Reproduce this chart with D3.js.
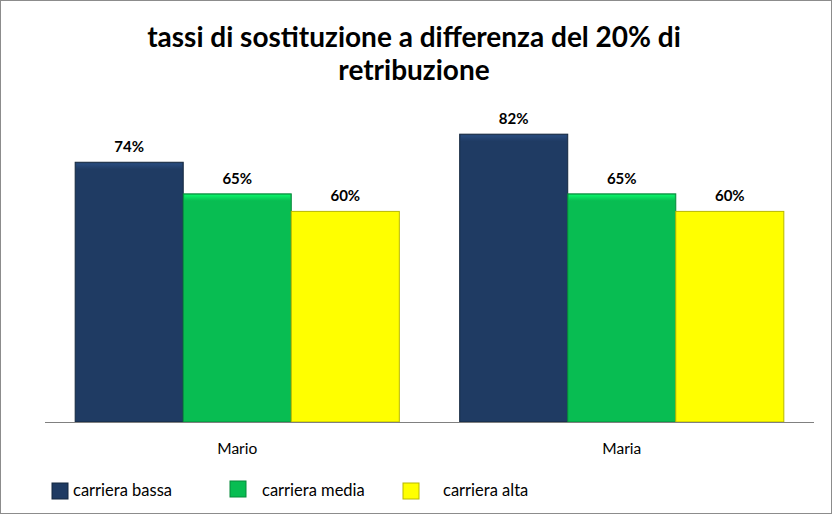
<!DOCTYPE html>
<html><head><meta charset="utf-8">
<script src="https://cdn.jsdelivr.net/npm/d3@7/dist/d3.min.js"></script>
<style>body{margin:0;background:#fff}svg{display:block}</style>
</head><body>
<script>
const categories = ["Mario", "Maria"];
const seriesNames = ["carriera bassa", "carriera media", "carriera alta"];
const carrieraBassa = [0.74, 0.82];
const carrieraMedia = [0.65, 0.65];
const carrieraAlta = [0.60, 0.60];
const titleLines = ["tassi di sostituzione a differenza del 20% di", "retribuzione"];

const colors = ["#1f3b63", "#08bd52", "#ffff00"];
const edges = ["#142840", "#068a3b", "#b8b800"];
const seriesVals = [carrieraBassa, carrieraMedia, carrieraAlta];
const FONT = "Lato, 'Open Sans', sans-serif";

const W = 834, H = 516;
const svg = d3.select("body").append("svg").attr("width", W).attr("height", H);
const defs = svg.append("defs");
colors.forEach((c, i) => {
  const g = defs.append("linearGradient").attr("id", "top" + i).attr("x1", 0).attr("y1", 0).attr("x2", 0).attr("y2", 1);
  g.append("stop").attr("offset", 0).attr("stop-color", d3.color(c).brighter(0.7));
  g.append("stop").attr("offset", 1).attr("stop-color", c);
});

svg.append("rect").attr("x", 0.5).attr("y", 0.5).attr("width", 831).attr("height", 513)
  .attr("fill", "#fff").attr("stroke", "#8c8c8c").attr("stroke-width", 1);

svg.append("g").selectAll("text").data(titleLines).join("text")
  .attr("x", 414).attr("y", (d, i) => 47 + i * 33)
  .attr("text-anchor", "middle").attr("font-family", FONT)
  .attr("font-weight", "bold").attr("font-size", 28).attr("fill", "#000").text(d => d);

const x0 = d3.scaleBand().domain(categories).range([45, 814]).paddingInner(0).paddingOuter(0);
const innerW = x0.bandwidth() * 0.843;
const x1 = d3.scaleBand().domain(seriesNames)
  .range([(x0.bandwidth() - innerW) / 2, (x0.bandwidth() + innerW) / 2]).paddingInner(0).paddingOuter(0);
const y = d3.scaleLinear().domain([0, 1]).range([422, 71]);

const data = [];
categories.forEach((c, ci) => seriesNames.forEach((s, si) => data.push({c, s, si, v: seriesVals[si][ci]})));

const bars = svg.append("g").selectAll("g").data(data).join("g")
  .attr("transform", d => `translate(${x0(d.c) + x1(d.s)},0)`);
bars.append("rect").attr("x", 0).attr("y", d => y(d.v)).attr("width", x1.bandwidth())
  .attr("height", d => y(0) - y(d.v)).attr("fill", d => colors[d.si])
  .attr("stroke", d => edges[d.si]).attr("stroke-width", 1);
bars.append("rect").attr("x", 1).attr("y", d => y(d.v) + 1).attr("width", x1.bandwidth() - 2)
  .attr("height", 6).attr("fill", d => `url(#top${d.si})`);
bars.append("text").attr("x", x1.bandwidth() / 2).attr("y", d => y(d.v) - 10)
  .attr("text-anchor", "middle").attr("font-family", FONT)
  .attr("font-weight", "bold").attr("font-size", 15).attr("fill", "#000")
  .text(d => d3.format(".0%")(d.v));

const axis = svg.append("g").attr("transform", `translate(0,${y(0)})`)
  .call(d3.axisBottom(x0).tickSize(0).tickPadding(21));
axis.select(".domain").attr("stroke", "#808080").attr("d", "M45,0.5H814");
axis.selectAll("text").attr("font-family", FONT).attr("font-size", 15.5).attr("fill", "#000");

const legendX = [52, 230, 403];
const legendTextX = [73, 262, 443];
const lg = svg.append("g").selectAll("g").data(seriesNames).join("g");
lg.append("rect").attr("x", (d, i) => legendX[i]).attr("y", (d, i) => i === 1 ? 481 : 483).attr("width", 16).attr("height", 16)
  .attr("fill", (d, i) => colors[i]).attr("stroke", (d, i) => edges[i]);
lg.append("text").attr("x", (d, i) => legendTextX[i]).attr("y", 496)
  .attr("font-family", FONT).attr("font-size", 16.5).attr("fill", "#000").text(d => d);
</script>
</body></html>
